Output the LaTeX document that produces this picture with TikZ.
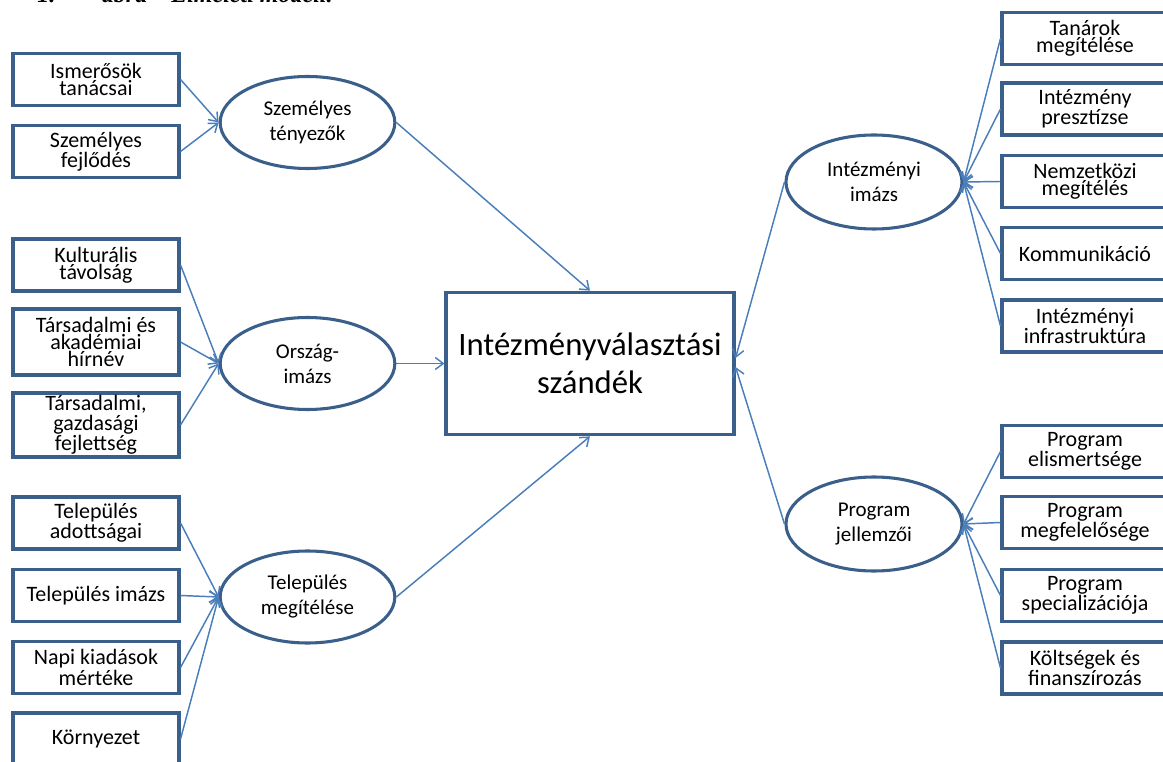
\documentclass[tikz,border=0pt]{standalone}
\usepackage{fontspec}
\setmainfont{Carlito}
\newfontfamily\capfont{Liberation Serif}
\usetikzlibrary{arrows.meta,shapes.geometric,calc}
\definecolor{bord}{HTML}{3A5F8B}
\definecolor{conn}{HTML}{4A7EBB}
\begin{document}
\begin{tikzpicture}[x=0.75pt,y=-0.75pt,
 box/.style={draw=bord, line width=2.3pt, fill=white, minimum width=124.5pt, minimum height=39pt, align=center, font=\fontsize{16.5}{13}\selectfont, inner sep=0pt},
 ell/.style={ellipse, draw=bord, line width=2.3pt, fill=white, minimum width=131pt, minimum height=69pt, align=center, font=\fontsize{15.75}{18.75}\selectfont, inner sep=0pt},
 mainbox/.style={draw=bord, line width=2.3pt, fill=white, minimum width=216pt, minimum height=107pt, align=center, font=\fontsize{24.5}{28.5}\selectfont, inner sep=0pt},
 arr/.style={draw=conn, line width=1.1pt, -{Straight Barb[length=6pt,width=9pt]}}
]
\useasboundingbox (0,0) rectangle (1163,762);
\clip (0,0) rectangle (1163,762);

\node[anchor=base west, font=\capfont\bfseries\itshape\fontsize{18}{20}\selectfont, inner sep=0pt] (cap) at (37,3) {1.\hspace{35pt}ábra – Elméleti modell.};

% central node
\node[mainbox] (goal) at (590,363.5) {Intézményválasztási\\szándék};

% ellipses
\node[ell] (pers) at (307.5,122.5) {Személyes\\tényezők};
\node[ell] (orsz) at (307.5,363.5) {Ország-\\imázs};
\node[ell] (tel) at (307.5,597) {Település\\megítélése};
\node[ell, minimum width=132pt, minimum height=70.5pt] (inst) at (874,182) {Intézményi\\imázs};
\node[ell, minimum width=132pt, minimum height=70.5pt] (prog) at (874,524) {Program\\jellemzői};

% left boxes
\node[box] (l1) at (96,79.5) {Ismerősök\\tanácsai};
\node[box] (l2) at (96,151.5) {Személyes\\fejlődés};
\node[box] (l3) at (96,265) {Kulturális\\távolság};
\node[box, minimum height=49.5pt] (l4) at (96,342) {Társadalmi és\\akadémiai\\hírnév};
\node[box, minimum height=48pt] (l5) at (96,425) {Társadalmi,\\gazdasági\\fejlettség};
\node[box] (l6) at (96,523) {Település\\adottságai};
\node[box] (l7) at (96,595.5) {Település imázs};
\node[box] (l8) at (96,667.5) {Napi kiadások\\mértéke};
\node[box] (l9) at (96,739) {Környezet};

% right boxes
\node[box] (r1) at (1085,38.5) {Tanárok\\megítélése};
\node[box] (r2) at (1085,109) {Intézmény\\presztízse};
\node[box] (r3) at (1085,181.5) {Nemzetközi\\megítélés};
\node[box] (r4) at (1085,253.5) {Kommunikáció};
\node[box] (r5) at (1085,326) {Intézményi\\infrastruktúra};
\node[box] (r6) at (1085,451.5) {Program\\elismertsége};
\node[box] (r7) at (1085,522.5) {Program\\megfelelősége};
\node[box] (r8) at (1085,595.5) {Program\\specializációja};
\node[box] (r9) at (1085,668) {Költségek és\\finanszírozás};

% connectors left
\foreach \b in {l1,l2} \draw[arr] (\b.east) -- (pers.west);
\foreach \b in {l3,l4,l5} \draw[arr] (\b.east) -- (orsz.west);
\foreach \b in {l6,l7,l8,l9} \draw[arr] (\b.east) -- (tel.west);
% connectors right
\foreach \b in {r1,r2,r3,r4,r5} \draw[arr] (\b.west) -- (inst.east);
\foreach \b in {r6,r7,r8,r9} \draw[arr] (\b.west) -- (prog.east);

% to the central node
\coordinate (mE1) at ($(goal.east)+(0,-5.5)$);
\coordinate (mE2) at ($(goal.east)+(0,3.5)$);
\draw[arr] (pers.east) -- (goal.north);
\draw[arr] (orsz.east) -- (goal.west);
\draw[arr] (tel.east) -- (goal.south);
\draw[arr] (inst.west) -- (mE1);
\draw[arr] (prog.west) -- (mE2);
\end{tikzpicture}
\end{document}
